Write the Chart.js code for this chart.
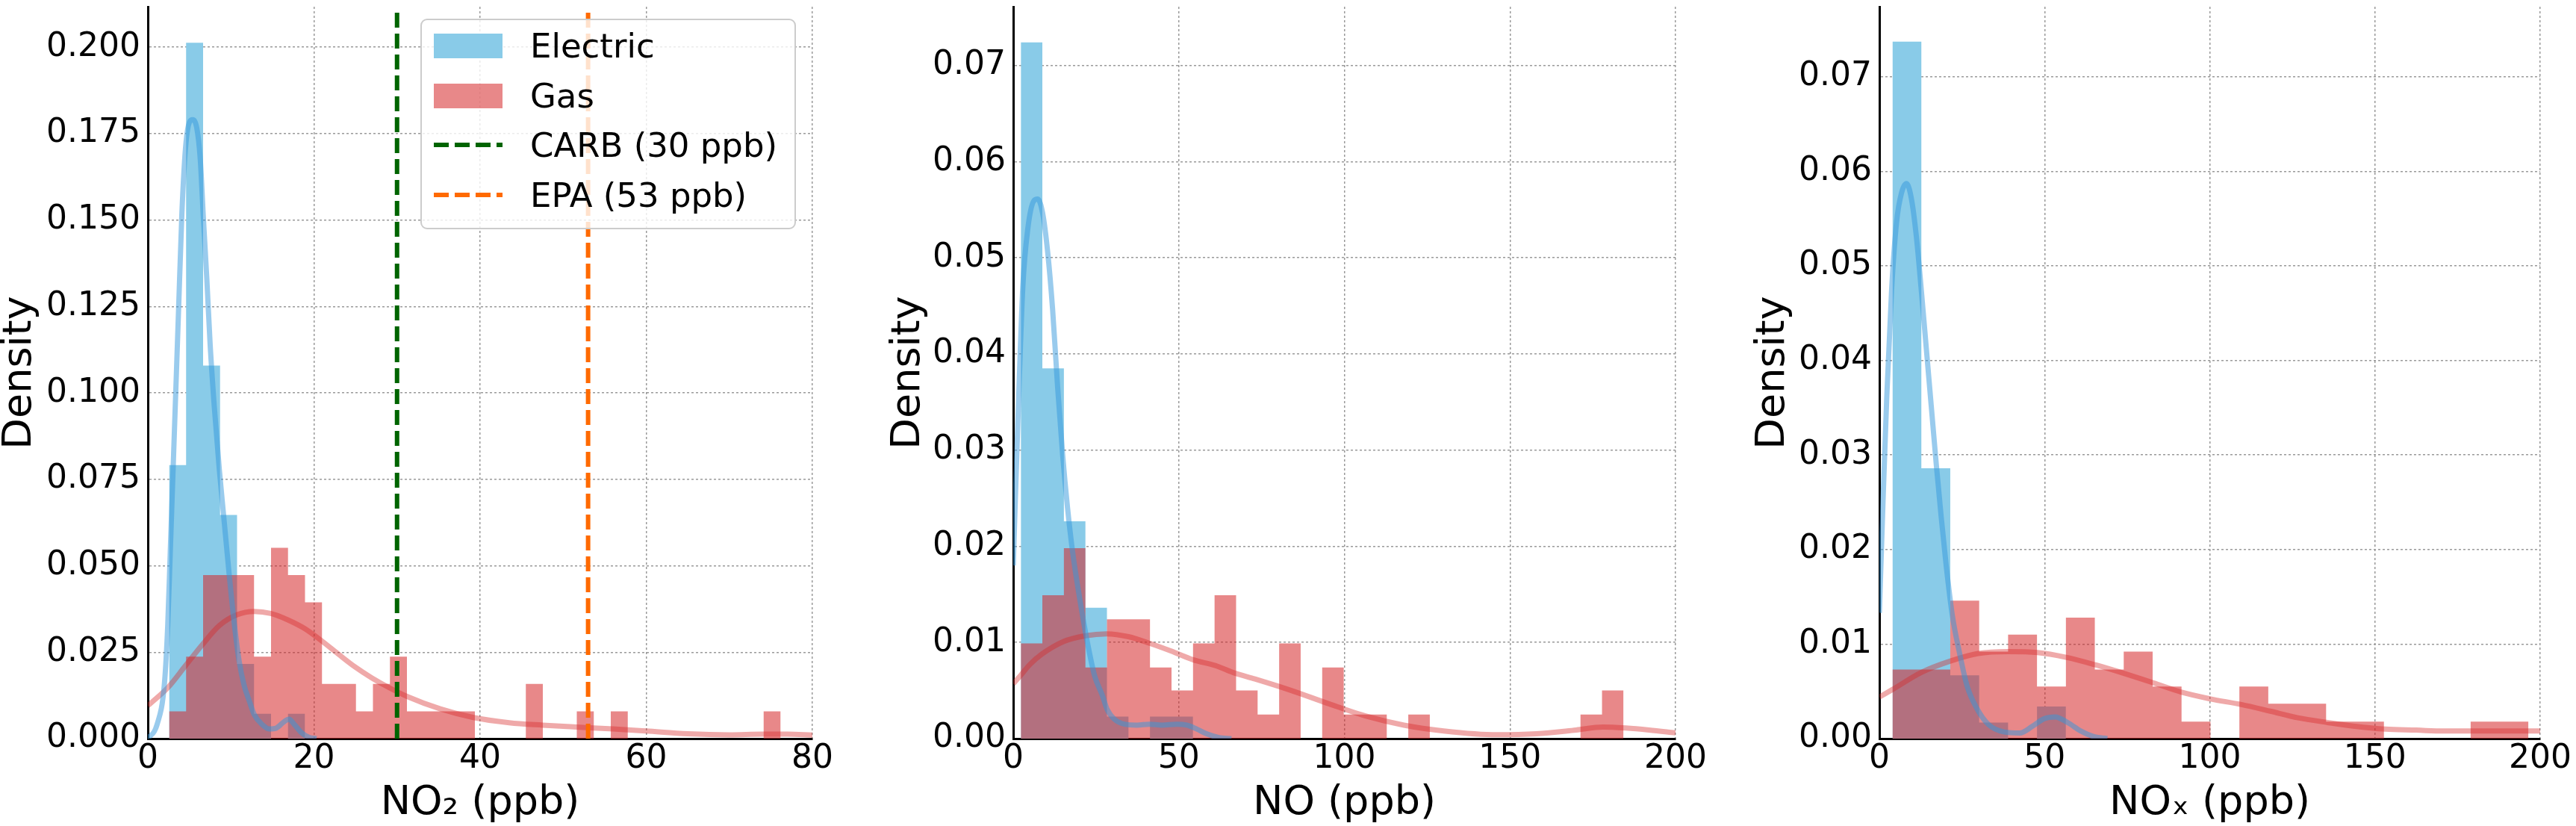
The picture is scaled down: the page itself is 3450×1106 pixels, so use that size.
<!DOCTYPE html>
<html>
<head>
<meta charset="utf-8">
<script src="https://cdn.jsdelivr.net/npm/chart.js@4.4.1/dist/chart.umd.min.js"></script>
<style>
html,body{margin:0;padding:0;background:#ffffff;width:3450px;height:1106px;overflow:hidden;font-family:'DejaVu Sans',sans-serif;}
canvas{position:absolute;top:-23px;}
#legend{position:absolute;left:563px;top:25px;width:503px;height:282px;box-sizing:border-box;border:2px solid #cccccc;border-radius:9px;background:rgba(255,255,255,0.8);z-index:5;}
.row{position:absolute;left:0;width:100%;height:45px;}
.sw{position:absolute;left:16px;top:6px;width:92px;height:33px;}
.lbl{position:absolute;left:145px;top:0;font-size:45px;line-height:45px;color:#000;white-space:nowrap;font-family:'DejaVu Sans',sans-serif;}
.dash{position:absolute;left:16px;top:17px;}
</style>
</head>
<body>
<canvas id="c1" width="1130" height="1129" style="left:0px"></canvas>
<canvas id="c2" width="1102" height="1129" style="left:1190px"></canvas>
<canvas id="c3" width="1102" height="1129" style="left:2348px"></canvas>
<div id="legend">
  <div class="row" style="top:12px"><div class="sw" style="background:rgb(137,203,232)"></div><div class="lbl">Electric</div></div>
  <div class="row" style="top:79px"><div class="sw" style="background:rgba(214,39,40,0.55)"></div><div class="lbl">Gas</div></div>
  <div class="row" style="top:145px"><svg class="dash" width="92" height="10"><line x1="0" y1="5" x2="92" y2="5" stroke="#006400" stroke-width="6" stroke-dasharray="20 8"/></svg><div class="lbl">CARB (30 ppb)</div></div>
  <div class="row" style="top:212px"><svg class="dash" width="92" height="10"><line x1="0" y1="5" x2="92" y2="5" stroke="#ff6a00" stroke-width="6" stroke-dasharray="20 8"/></svg><div class="lbl">EPA (53 ppb)</div></div>
</div>
<script>
// ---------------- DATA ----------------
const seriesNames = ['Electric', 'Gas'];
const carbLimit = 30;
const epaLimit = 53;

// NO2 panel
const no2BinStart = 2.56, no2BinWidth = 2.045;
const no2ElectricDensity = [0.0791, 0.2013, 0.1079, 0.0647, 0.0216, 0.0072, 0, 0.0072];
const no2GasDensity = [0.0079, 0.0237, 0.0473, 0.0473, 0.0473, 0.0237, 0.0552, 0.0473, 0.0394, 0.0158, 0.0158, 0.0079, 0.0158, 0.0237, 0.0079, 0.0079, 0.0079, 0.0079, 0, 0, 0, 0.0158, 0, 0, 0.0079, 0, 0.0079, 0, 0, 0, 0, 0, 0, 0, 0, 0.0079];
const no2ElectricKdeX = [0, 1.1, 2.0, 2.4, 2.7, 3.1, 3.7, 4.1, 4.6, 5.4, 5.9, 6.3, 6.7, 7.1, 7.5, 8.0, 8.6, 9.2, 9.8, 10.4, 11.0, 11.6, 12.2, 12.8, 13.7, 14.6, 15.5, 16.4, 17.0, 17.6, 18.5, 19.4, 20.3];
const no2ElectricKdeY = [0, 0.004, 0.016, 0.033, 0.054, 0.082, 0.124, 0.152, 0.1725, 0.1790, 0.1765, 0.168, 0.150, 0.133, 0.114, 0.096, 0.078, 0.0626, 0.0473, 0.0334, 0.0223, 0.0153, 0.011, 0.007, 0.0042, 0.0028, 0.0031, 0.0049, 0.0056, 0.0042, 0.0017, 0.0004, 0];
const no2GasKdeX = [0, 2.5, 4.5, 6.5, 8.6, 10.7, 12.8, 14.8, 16.9, 18.9, 20.8, 22.9, 24.9, 27, 29, 31.2, 35.2, 39.2, 43.5, 47.5, 52, 56, 60, 65, 70, 74, 77, 80];
const no2GasKdeY = [0.0095, 0.015, 0.021, 0.027, 0.0327, 0.0358, 0.0368, 0.0362, 0.0343, 0.0318, 0.0285, 0.0245, 0.0208, 0.0175, 0.0148, 0.0122, 0.0086, 0.0061, 0.0046, 0.0039, 0.0033, 0.0028, 0.0022, 0.0014, 0.0011, 0.0013, 0.0013, 0.001];

// NO panel
const noBinStart = 2.3, noBinWidth = 6.5;
const noElectricDensity = [0.0724, 0.0385, 0.0226, 0.0136, 0.0023, 0, 0.0023, 0.0023];
const noGasDensity = [0.0099, 0.0149, 0.0198, 0.0074, 0.0124, 0.0124, 0.0074, 0.0050, 0.0099, 0.0149, 0.0050, 0.0025, 0.0099, 0, 0.0074, 0.0025, 0.0025, 0, 0.0025, 0, 0, 0, 0, 0, 0, 0, 0.0025, 0.0050];
const noElectricKdeX = [0, 1.7, 2.9, 4.4, 6.2, 7.4, 8.9, 10.4, 11.9, 13.4, 14.9, 16.4, 17.9, 20.1, 22.4, 24.6, 26.9, 28.4, 30.6, 33.6, 37.4, 41.1, 44.9, 49.4, 52.4, 55.4, 58.4, 62.2, 65.9];
const noElectricKdeY = [0.018, 0.036, 0.047, 0.053, 0.0559, 0.0561, 0.0546, 0.0506, 0.0446, 0.0366, 0.0296, 0.024, 0.0195, 0.0145, 0.01, 0.0065, 0.0045, 0.003, 0.002, 0.0015, 0.0014, 0.0015, 0.0014, 0.0015, 0.0014, 0.001, 0.0005, 0.0001, 0];
const noGasKdeX = [0, 2.3, 5, 8.7, 15.2, 21.8, 28.2, 34.8, 41.3, 47.7, 54.3, 61, 67, 73, 84, 95.5, 107, 118, 130, 146, 158, 170, 178, 185, 192, 200];
const noGasKdeY = [0.0057, 0.0066, 0.0077, 0.0088, 0.0101, 0.0107, 0.0109, 0.0106, 0.0099, 0.0091, 0.0082, 0.0076, 0.0068, 0.0062, 0.005, 0.0036, 0.0023, 0.0014, 0.0008, 0.0004, 0.0005, 0.0009, 0.0012, 0.0011, 0.0009, 0.0006];

// NOx panel
const noxBinStart = 3.96, noxBinWidth = 8.75;
const noxElectricDensity = [0.0737, 0.0286, 0.0067, 0.0017, 0, 0.0034];
const noxGasDensity = [0.0073, 0.0073, 0.0146, 0.0092, 0.0110, 0.0055, 0.0128, 0.0073, 0.0092, 0.0055, 0.0018, 0, 0.0055, 0.0037, 0.0037, 0.0018, 0.0018, 0, 0, 0, 0.0018, 0.0018];
const noxElectricKdeX = [0, 1.1, 2.25, 3.7, 5.2, 6.7, 8.2, 9.7, 11.2, 12.7, 14.2, 15.7, 17.2, 18.7, 20.2, 22.1, 24.3, 26.6, 29.5, 33, 37.8, 42.5, 46.3, 49.8, 53.2, 57, 61, 65, 69];
const noxElectricKdeY = [0.0133, 0.025, 0.0362, 0.0474, 0.0546, 0.0577, 0.0587, 0.0571, 0.0531, 0.0474, 0.0413, 0.0352, 0.0291, 0.0235, 0.0184, 0.013, 0.009, 0.0055, 0.0032, 0.0015, 0.0007, 0.0006, 0.0013, 0.0021, 0.0023, 0.0017, 0.0008, 0.0002, 0];
const noxGasKdeX = [0, 4, 12.7, 21.5, 29.9, 38.9, 47.9, 56.5, 65.4, 74, 82.9, 91.5, 100.2, 109.6, 118.3, 126.7, 135.7, 143.9, 153.2, 162.5, 170.7, 180, 190, 200];
const noxGasKdeY = [0.0044, 0.0052, 0.007, 0.0082, 0.009, 0.0092, 0.0091, 0.0086, 0.0078, 0.0069, 0.0059, 0.0049, 0.0042, 0.0036, 0.0029, 0.0022, 0.0017, 0.0013, 0.001, 0.0009, 0.0008, 0.0008, 0.0008, 0.0008];

// axis ranges / tick labels
const no2XTicks = [0, 20, 40, 60, 80];
const noXTicks = [0, 50, 100, 150, 200];
const no2YTickStep = 0.025, noYTickStep = 0.01;
const no2YMax = 0.2117, noYMax = 0.0761, noxYMax = 0.0774;
const axisTitles = ['NO\u2082 (ppb)', 'NO (ppb)', 'NO\u2093 (ppb)'];

// ---------------- STYLE ----------------
const FAMILY = 'DejaVu Sans';
Chart.defaults.font.family = FAMILY;
Chart.defaults.color = '#000';
const electricFill = 'rgb(137,203,232)';
const gasFill = 'rgba(214,39,40,0.55)';
const electricLine = 'rgba(52,152,219,0.5)';
const gasLine = 'rgba(214,39,40,0.40)';

function histPoints(start, width, dens) {
  const pts = dens.map((d, i) => ({x: start + i * width, y: d}));
  pts.push({x: start + dens.length * width, y: 0});
  return pts;
}
function curve(xs, ys) { return xs.map((x, i) => ({x: x, y: ys[i]})); }

function histDs(label, pts, color, order) {
  return {label, data: pts, stepped: true, fill: 'origin', backgroundColor: color,
          borderColor: 'rgba(0,0,0,0)', borderWidth: 1, pointRadius: 0, order};
}
function kdeDs(label, pts, color, order) {
  return {label, data: pts, fill: false, borderColor: color, borderWidth: 7,
          cubicInterpolationMode: 'monotone', pointRadius: 0, order};
}
function vline(label, x, ymax, color) {
  return {label, data: [{x: x, y: 0}, {x: x, y: ymax}], fill: false, borderColor: color,
          borderWidth: 6, borderDash: [20, 8], pointRadius: 0, order: 0};
}

function makePanel(id, cfg) {
  const gridCommon = {color: '#9a9a9a', lineWidth: 1.5, drawTicks: false};
  const borderCommon = {display: true, color: '#000', width: 3, dash: [3, 3]};
  const tickFont = {family: FAMILY, size: 44, lineHeight: 1};
  const titleFont = {family: FAMILY, size: 54, lineHeight: 1};
  new Chart(document.getElementById(id), {
    type: 'line',
    data: {datasets: cfg.datasets},
    options: {
      responsive: false, animation: false, events: [],
      layout: {padding: {left: 0, right: cfg.padRight, top: 24, bottom: 0}},
      plugins: {legend: {display: false}, tooltip: {enabled: false}},
      scales: {
        x: {
          type: 'linear', min: cfg.xTicks[0], max: cfg.xTicks[cfg.xTicks.length - 1],
          afterBuildTicks: (s) => { s.ticks = cfg.xTicks.map(v => ({value: v})); },
          ticks: {font: tickFont, color: '#000', padding: 6, maxRotation: 0,
                  autoSkip: false, callback: (v) => String(Math.round(v))},
          grid: gridCommon, border: borderCommon,
          title: {display: true, text: cfg.xTitle, color: '#000', font: titleFont,
                  padding: {top: 0, bottom: 3}},
          afterFit: (s) => { s.height = 117; }
        },
        y: {
          type: 'linear', min: 0, max: cfg.yMax,
          ticks: {stepSize: cfg.yStep, includeBounds: false, font: tickFont, color: '#000',
                  padding: 10, callback: (v) => Number(v).toFixed(cfg.yDec)},
          grid: gridCommon, border: borderCommon,
          title: {display: true, text: 'Density', color: '#000', font: titleFont,
                  padding: {top: 0, bottom: 0}},
          afterFit: (s) => { s.width = cfg.yWidth; }
        }
      }
    }
  });
}

makePanel('c1', {
  xTicks: no2XTicks, yMax: no2YMax, yStep: no2YTickStep, yDec: 3, yWidth: 198, padRight: 42,
  xTitle: axisTitles[0],
  datasets: [
    vline('CARB (30 ppb)', carbLimit, no2YMax, '#006400'),
    vline('EPA (53 ppb)', epaLimit, no2YMax, '#ff6a00'),
    kdeDs('Electric KDE', curve(no2ElectricKdeX, no2ElectricKdeY), electricLine, 1),
    kdeDs('Gas KDE', curve(no2GasKdeX, no2GasKdeY), gasLine, 2),
    histDs(seriesNames[1], histPoints(no2BinStart, no2BinWidth, no2GasDensity), gasFill, 3),
    histDs(seriesNames[0], histPoints(no2BinStart, no2BinWidth, no2ElectricDensity), electricFill, 4)
  ]
});
makePanel('c2', {
  xTicks: noXTicks, yMax: noYMax, yStep: noYTickStep, yDec: 2, yWidth: 167, padRight: 45,
  xTitle: axisTitles[1],
  datasets: [
    kdeDs('Electric KDE', curve(noElectricKdeX, noElectricKdeY), electricLine, 1),
    kdeDs('Gas KDE', curve(noGasKdeX, noGasKdeY), gasLine, 2),
    histDs(seriesNames[1], histPoints(noBinStart, noBinWidth, noGasDensity), gasFill, 3),
    histDs(seriesNames[0], histPoints(noBinStart, noBinWidth, noElectricDensity), electricFill, 4)
  ]
});
makePanel('c3', {
  xTicks: noXTicks, yMax: noxYMax, yStep: noYTickStep, yDec: 2, yWidth: 169, padRight: 43,
  xTitle: axisTitles[2],
  datasets: [
    kdeDs('Electric KDE', curve(noxElectricKdeX, noxElectricKdeY), electricLine, 1),
    kdeDs('Gas KDE', curve(noxGasKdeX, noxGasKdeY), gasLine, 2),
    histDs(seriesNames[1], histPoints(noxBinStart, noxBinWidth, noxGasDensity), gasFill, 3),
    histDs(seriesNames[0], histPoints(noxBinStart, noxBinWidth, noxElectricDensity), electricFill, 4)
  ]
});
</script>
</body>
</html>
